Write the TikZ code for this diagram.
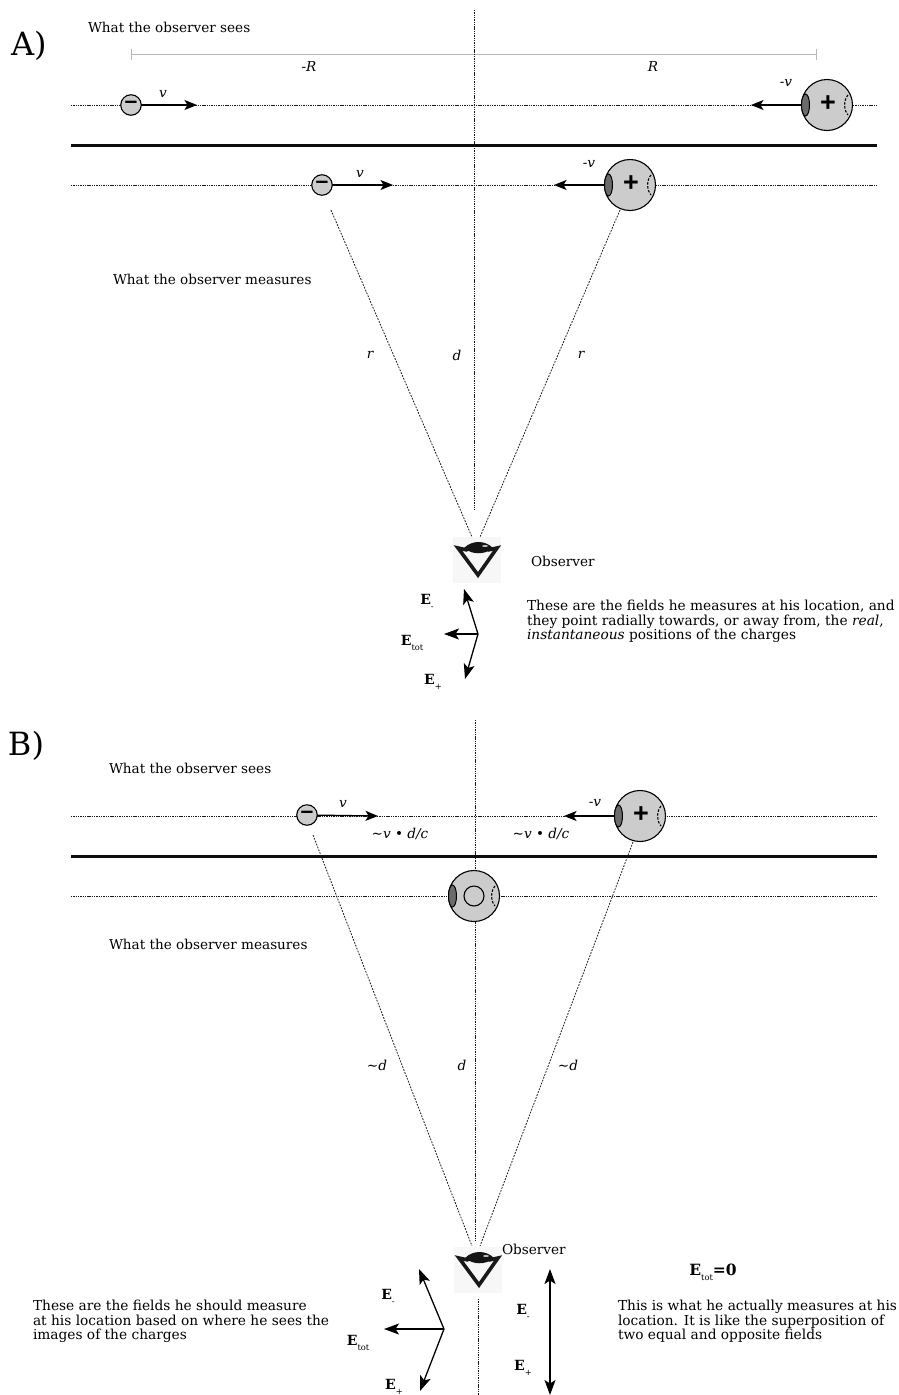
\documentclass[tikz,border=0pt]{standalone}
\usepackage{fontspec}
\setmainfont{DejaVu Serif}
\newfontfamily\signfont{Liberation Sans}
\usetikzlibrary{arrows.meta,shapes.geometric}
\definecolor{chargegray}{gray}{0.8}
\definecolor{dimgray}{gray}{0.72}
\definecolor{lensgray}{gray}{0.42}
\definecolor{eyebg}{gray}{0.97}
\newcommand{\fld}[2]{\textbf{E}\raisebox{-5pt}{\fontsize{8.3}{9}\selectfont #2}}
\tikzset{
  x=1pt,y=-1pt,
  every node/.style={inner sep=0pt,outer sep=0pt},
  txt/.style={anchor=west,font=\fontsize{13.6}{15}\selectfont},
  para/.style={anchor=north west,align=left,font=\fontsize{13.75}{14.6}\selectfont},
  mlab/.style={font=\fontsize{13.6}{15}\selectfont\itshape},
  head/.style={anchor=west,font=\fontsize{32}{34}\selectfont},
  fl/.style={font=\fontsize{14}{15}\selectfont},
  dots/.style={line width=0.8pt,dash pattern=on 1.4pt off 0.9pt,black!90},
  sight/.style={line width=0.8pt,dash pattern=on 1.8pt off 1.3pt,black!90},
  thickline/.style={line width=3pt,black!95},
  arr/.style={line width=1.3pt,-{Stealth[length=12.5pt,width=10pt,inset=3pt]}},
  farr/.style={line width=1.3pt,-{Stealth[length=15pt,width=11pt,inset=3.5pt]}},
  dim/.style={line width=0.6pt,dimgray},
  minusq/.style={circle,draw,line width=1.1pt,fill=chargegray,minimum size=20.5pt,font=\signfont\bfseries\fontsize{23}{23}\selectfont},
  plusq/.style={circle,draw,line width=1.1pt,fill=chargegray,minimum size=51pt},
  lens/.style={ellipse,draw,line width=1pt,fill=lensgray,minimum width=8pt,minimum height=22pt},
  plussign/.style={font=\signfont\bfseries\fontsize{27}{27}\selectfont},
}
\newcommand{\backdash}[1]{\draw[line width=1.1pt,dash pattern=on 2.4pt off 1.6pt] ([shift={(21,-10)}]#1.center) .. controls ([shift={(16.5,-5)}]#1.center) and ([shift={(16.5,5)}]#1.center) .. ([shift={(21,10)}]#1.center);}
\newcommand{\eyeglyph}[3]{% name, x, y
  \node[fill=eyebg,minimum width=48pt,minimum height=46pt] (#1) at (#2,#3) {};
  \draw[line width=3.6pt,line join=miter,line cap=round,black!90] ([shift={(-10,-10)}]#1.center) -- ([shift={(-19,-12)}]#1.center) -- ([shift={(1,15)}]#1.center) -- ([shift={(20,-12)}]#1.center) -- ([shift={(11,-10)}]#1.center);
  \fill[black!92] ([shift={(-13,-12)}]#1.center) .. controls ([shift={(-5,-20)}]#1.center) and ([shift={(8,-20)}]#1.center) .. ([shift={(16,-12)}]#1.center) .. controls ([shift={(8,-5)}]#1.center) and ([shift={(-5,-5)}]#1.center) .. cycle;
  \fill[white,opacity=0.7] ([shift={(8,-14)}]#1.center) ellipse[x radius=3pt,y radius=1pt];
}
\begin{document}
\begin{tikzpicture}
\useasboundingbox (0,0) rectangle (899,1395);
% ---------- A
\node[head] (headA) at (11,46) {A)};
\node[txt] (seesA) at (88,27) {What the observer sees};
\node[txt] (measA) at (113,279) {What the observer measures};
\coordinate (dimL) at (131,54); \coordinate (dimR) at (816,54);
\coordinate (dimLt) at (131,49); \coordinate (dimLb) at (131,60);
\coordinate (dimRt) at (816,49); \coordinate (dimRb) at (816,60);
\draw[dim] (dimL) -- (dimR); \draw[dim] (dimLt) -- (dimLb); \draw[dim] (dimRt) -- (dimRb);
\node[mlab] (Rm) at (309,67) {-R};
\node[mlab] (Rp) at (653,67) {R};
\coordinate (aTop) at (474,10); \coordinate (aBot) at (474,510);
\draw[dots] (aTop) -- (aBot);
\coordinate (a1L) at (71,105); \coordinate (a1R) at (877,105);
\coordinate (a2L) at (71,185); \coordinate (a2R) at (877,185);
\coordinate (a0L) at (71,145); \coordinate (a0R) at (877,145);
\draw[dots] (a1L) -- (a1R); \draw[dots] (a2L) -- (a2R);
\draw[thickline] (a0L) -- (a0R);
\node[minusq] (m1) at (131,105) {\raisebox{-0.5pt}{–}};
\node[plusq] (p1) at (827,105) {};
\node[lens] (l1) at (805.5,105) {};
\node[plussign] (s1) at (828,104) {+};
\backdash{p1}
\coordinate (t1) at (197,105); \coordinate (t2) at (751,105);
\draw[arr] (m1) -- (t1); \draw[arr] (l1.west) -- (t2);
\node[mlab] (v1) at (163,94) {v}; \node[mlab] (v2) at (786,83) {-v};
\node[minusq] (m2) at (322,185) {\raisebox{-0.5pt}{–}};
\node[plusq] (p2) at (630,185) {};
\node[lens] (l2) at (608.5,185) {};
\node[plussign] (s2) at (631,184) {+};
\backdash{p2}
\coordinate (t3) at (393,185); \coordinate (t4) at (554,185);
\draw[arr] (m2) -- (t3); \draw[arr] (l2.west) -- (t4);
\node[mlab] (v3) at (360,174) {v}; \node[mlab] (v4) at (589,164) {-v};
\coordinate (sa1) at (331,210); \coordinate (sa2) at (620,210);
\coordinate (ea1) at (472,537); \coordinate (ea2) at (480,537);
\draw[sight] (sa1) -- (ea1); \draw[sight] (sa2) -- (ea2);
\node[mlab] (ra) at (370,355) {r}; \node[mlab] (da) at (457,355) {d}; \node[mlab] (rb) at (581,355) {r};
\eyeglyph{eyeA}{477}{560}
\node[txt] (obsA) at (531,561) {Observer};
\node[para] (paraA) at (527,600) {These are the fields he measures at his location, and\\they point radially towards, or away from, the \textit{real},\\\textit{instantaneous} positions of the charges};
\coordinate (oA) at (478,634); \coordinate (aEm) at (464,589); \coordinate (aEt) at (444,634); \coordinate (aEp) at (465,679);
\draw[farr] (oA) -- (aEm); \draw[farr] (oA) -- (aEt); \draw[farr] (oA) -- (aEp);
\node[fl] (lEm) at (427,602) {\fld{E}{-}}; \node[fl] (lEt) at (412,643) {\fld{E}{tot}}; \node[fl] (lEp) at (433,682) {\fld{E}{+}};
% ---------- B
\node[head] (headB) at (8,746) {B)};
\node[txt] (seesB) at (109,768) {What the observer sees};
\node[txt] (measB) at (109,944) {What the observer measures};
\coordinate (bTop) at (475,720); \coordinate (bBot) at (475,1240);
\draw[dots] (bTop) -- (bBot);
\coordinate (bTop2) at (478.5,1299); \coordinate (bBot2) at (478.5,1395);
\draw[dots] (bTop2) -- (bBot2);
\coordinate (b1L) at (71,816); \coordinate (b1R) at (877,816);
\coordinate (b2L) at (71,896); \coordinate (b2R) at (877,896);
\coordinate (b0L) at (71,856); \coordinate (b0R) at (877,856);
\draw[dots] (b1L) -- (b1R); \draw[dots] (b2L) -- (b2R);
\draw[thickline] (b0L) -- (b0R);
\node[minusq] (m3) at (307,815) {\raisebox{-0.5pt}{–}};
\node[plusq] (p3) at (640,816) {};
\node[lens] (l3) at (618.5,816) {};
\node[plussign] (s3) at (641,815) {+};
\backdash{p3}
\coordinate (t5) at (378,816); \coordinate (t6) at (564,816);
\draw[arr] (m3) -- (t5); \draw[arr] (l3.west) -- (t6);
\node[mlab] (v5) at (343,804) {v}; \node[mlab] (v6) at (595,803) {-v};
\node[mlab] (s5) at (400,834) {\textasciitilde v • d/c}; \node[mlab] (s6) at (541,834) {\textasciitilde v • d/c};
\node[plusq] (p4) at (474,896) {};
\node[lens] (l4) at (452.5,896) {};
\node[circle,draw,line width=1.1pt,minimum size=20pt] (i4) at (474,896) {};
\backdash{p4}
\coordinate (sb1) at (313,835); \coordinate (sb2) at (633,842);
\coordinate (eb1) at (472,1246); \coordinate (eb2) at (480,1246);
\draw[sight] (sb1) -- (eb1); \draw[sight] (sb2) -- (eb2);
\node[mlab] (rc) at (377,1065) {\textasciitilde d}; \node[mlab] (dc) at (462,1065) {d}; \node[mlab] (rd) at (568,1065) {\textasciitilde d};
\eyeglyph{eyeB}{478}{1270}
\node[txt] (obsB) at (502,1249) {Observer};
\node[fl,font=\fontsize{15.5}{16}\selectfont] (Ezero) at (713,1272) {\fld{E}{tot}\textbf{=0}};
\node[para] (paraL) at (33,1300) {These are the fields he should measure\\at his location based on where he sees the\\images of the charges};
\node[para] (paraR) at (618,1300) {This is what he actually measures at his\\location. It is like the superposition of\\two equal and opposite fields};
\coordinate (oB) at (444,1329); \coordinate (bEm) at (419,1269); \coordinate (bEt) at (384,1329); \coordinate (bEp) at (420,1391);
\draw[farr] (oB) -- (bEm); \draw[farr] (oB) -- (bEt); \draw[farr] (oB) -- (bEp);
\node[fl] (lEm2) at (388,1297) {\fld{E}{-}}; \node[fl] (lEt2) at (358,1343) {\fld{E}{tot}}; \node[fl] (lEp2) at (394,1387) {\fld{E}{+}};
\coordinate (rC) at (550,1330); \coordinate (rT) at (550,1269); \coordinate (rB) at (550,1395);
\draw[farr] (rC) -- (rT); \draw[farr] (rC) -- (rB);
\node[fl] (lEm3) at (523,1312) {\fld{E}{-}}; \node[fl] (lEp3) at (523,1368) {\fld{E}{+}};
\end{tikzpicture}
\end{document}
